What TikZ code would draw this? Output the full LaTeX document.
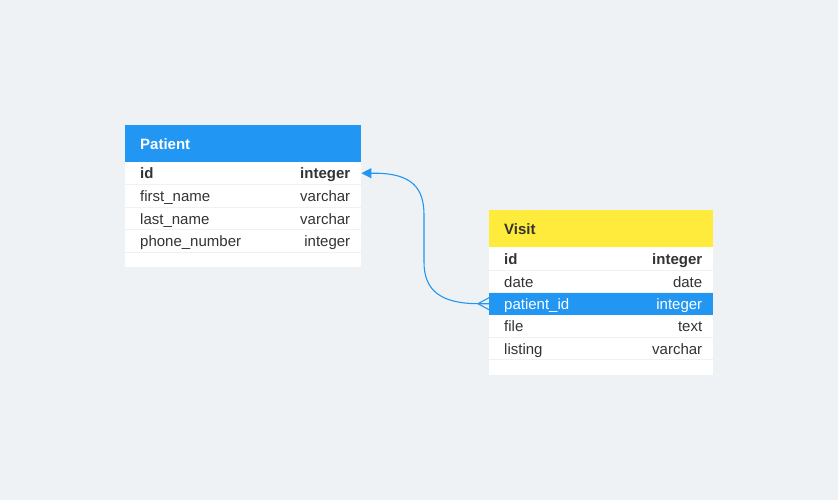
\documentclass[tikz,border=0pt]{standalone}
\usepackage{fontspec}
\setmainfont{Liberation Sans}
\usetikzlibrary{arrows.meta}
\definecolor{bgc}{HTML}{EFF2F5}
\definecolor{bluec}{HTML}{2196F3}
\definecolor{yelc}{HTML}{FFEB3B}
\definecolor{txt}{HTML}{333333}
\begin{document}
\begin{tikzpicture}[x=1pt,y=-1pt,
  hdr/.style={draw=none,minimum width=236pt,minimum height=37pt,inner sep=0pt,anchor=north west},
  rowbox/.style={fill=white,draw=none,minimum width=236pt,minimum height=22pt,inner sep=0pt,anchor=north west},
  vrowbox/.style={rowbox,minimum width=224pt},
  lname/.style={anchor=west,inner sep=0pt,text=txt,text height=13pt,text depth=1.5pt,font=\fontsize{15}{17}\selectfont},
  ltype/.style={anchor=east,inner sep=0pt,text=txt,text height=13pt,text depth=1.5pt,font=\fontsize{15}{17}\selectfont},
  bld/.style={font=\fontsize{15}{17}\selectfont\bfseries},
  htext/.style={anchor=west,inner sep=0pt,text height=13pt,text depth=1.5pt,font=\fontsize{15}{17}\selectfont\bfseries},
  conn/.style={draw=bluec,line width=1.1pt}]
\fill[bgc] (0,0) rectangle (838,500);
\useasboundingbox (0,0) rectangle (838,500);
% Patient table
\node[hdr,fill=bluec,minimum width=236pt] (ph) at (125,125) {};
\node[rowbox] (p1) at (125,162) {};
\node[rowbox] (p2) at (125,185) {};
\node[rowbox,minimum height=21pt] (p3) at (125,208) {};
\node[rowbox] (p4) at (125,230) {};
\node[rowbox,minimum height=14pt] (p5) at (125,253) {};
\node[htext,text=white] (pht) at ([xshift=15pt]ph.west) {Patient};
\node[lname,bld] (p1n) at ([xshift=15pt]p1.west) {id};
\node[ltype,bld] (p1t) at ([xshift=-11pt]p1.east) {integer};
\node[lname] (p2n) at ([xshift=15pt]p2.west) {first\_name};
\node[ltype] (p2t) at ([xshift=-11pt]p2.east) {varchar};
\node[lname] (p3n) at ([xshift=15pt]p3.west) {last\_name};
\node[ltype] (p3t) at ([xshift=-11pt]p3.east) {varchar};
\node[lname] (p4n) at ([xshift=15pt]p4.west) {phone\_number};
\node[ltype] (p4t) at ([xshift=-11pt]p4.east) {integer};
% Visit table
\node[hdr,fill=yelc,minimum width=224pt] (vh) at (489,210) {};
\node[vrowbox,minimum height=23pt] (v1) at (489,247) {};
\node[vrowbox,minimum height=21pt] (v2) at (489,271) {};
\node[vrowbox,fill=bluec] (v3) at (489,292.5) {};
\node[vrowbox] (v4) at (489,315) {};
\node[vrowbox,minimum height=21pt] (v5) at (489,338) {};
\node[vrowbox,minimum height=15pt] (v6) at (489,360) {};
\node[htext,text=txt] (vht) at ([xshift=15pt]vh.west) {Visit};
\node[lname,bld] (v1n) at ([xshift=15pt]v1.west) {id};
\node[ltype,bld] (v1t) at ([xshift=-11pt]v1.east) {integer};
\node[lname] (v2n) at ([xshift=15pt]v2.west) {date};
\node[ltype] (v2t) at ([xshift=-11pt]v2.east) {date};
\node[lname,text=white] (v3n) at ([xshift=15pt]v3.west) {patient\_id};
\node[ltype,text=white] (v3t) at ([xshift=-11pt]v3.east) {integer};
\node[lname] (v4n) at ([xshift=15pt]v4.west) {file};
\node[ltype] (v4t) at ([xshift=-11pt]v4.east) {text};
\node[lname] (v5n) at ([xshift=15pt]v5.west) {listing};
\node[ltype] (v5t) at ([xshift=-11pt]v5.east) {varchar};
% connector
\coordinate (cf) at ([xshift=-11pt]v3.west);
\coordinate (ma) at (424,262);
\coordinate (mb) at (424,215);
\draw[conn,-{Triangle[length=10pt,width=10pt]}] (v3.west) -- (cf)
  .. controls (440,303.5) and (424,290) .. (ma) -- (mb)
  .. controls (424,188) and (412,173) .. ([xshift=12pt]p1.east) -- (p1.east);
\draw[conn] (cf) -- ([yshift=-6pt]v3.west);
\draw[conn] (cf) -- ([yshift=6pt]v3.west);
\end{tikzpicture}
\end{document}
